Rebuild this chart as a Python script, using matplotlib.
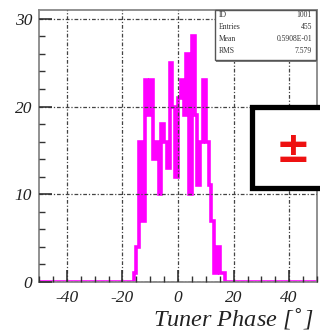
import numpy as np
import matplotlib
matplotlib.use("Agg")
import matplotlib.pyplot as plt
from matplotlib.patches import Rectangle

plt.rcParams["axes.unicode_minus"] = False

# ---- data ----
bin_lo, bin_hi, bin_width = -50, 50, 1
first_filled_bin = -16
counts_filled = [1, 4, 16, 7, 23, 19, 23, 14, 16, 10, 18, 16, 13, 25, 20, 12,
                 21, 23, 19, 26, 10, 28, 19, 11, 16, 23, 16, 11, 7, 1, 4, 1, 1]
xticks = [-40, -20, 0, 20, 40]
yticks = [0, 10, 20, 30]
xlabel = "Tuner Phase [$^{\\circ}$]"
stat_names = ["ID", "Entries", "Mean", "RMS"]
stat_values = ["1001", "455", "0.5908E-01", "7.579"]

edges = np.arange(bin_lo, bin_hi + bin_width, bin_width)
counts = np.zeros(len(edges) - 1)
i0 = int((first_filled_bin - bin_lo) / bin_width)
counts[i0:i0 + len(counts_filled)] = counts_filled

W, H = 320, 332
fig = plt.figure(figsize=(W / 100, H / 100), dpi=100)
ax = fig.add_axes([39 / W, 1 - 282 / H, (317 - 39) / W, (282 - 10) / H])

ax.stairs(counts, edges, color="#ff00ff", linewidth=2.6, baseline=None)
ax.set_xlim(bin_lo, bin_hi)
ax.set_ylim(0, 31)

ax.set_xticks(xticks)
ax.set_yticks(yticks)
ax.set_xticks(np.arange(-50, 51, 5), minor=True)
ax.set_yticks(np.arange(0, 31, 2), minor=True)
ax.tick_params(which="major", direction="in", length=9, width=1.2, color="#333333",
               top=False, right=False)
ax.tick_params(which="minor", direction="in", length=4.5, width=1.0, color="#333333",
               top=False, right=False)
ax.tick_params(axis="y", pad=5)
ax.tick_params(axis="x", pad=6)
for lab in ax.get_xticklabels() + ax.get_yticklabels():
    lab.set_fontfamily("Liberation Serif")
    lab.set_fontstyle("italic")
    lab.set_fontsize(12.5)
    lab.set_color("#222222")

ax.grid(True, which="major", color="#444444", linewidth=0.9,
        linestyle=(0, (3, 1.5, 1, 1.5)))
ax.set_axisbelow(False)
for s in ax.spines.values():
    s.set_color("#888888")
    s.set_linewidth(1.3)

fig.text(314 / W, 1 - 319 / H, xlabel, ha="right", va="center",
         fontfamily="Liberation Serif", fontstyle="italic", fontsize=17.5, color="#222222")

# stats box
bx0, bx1, by0, by1 = 215, 316, 10, 60
fig.patches.append(Rectangle((bx0 / W, 1 - by1 / H), (bx1 - bx0) / W, (by1 - by0) / H,
                             transform=fig.transFigure, facecolor="white",
                             edgecolor="#555555", linewidth=1.0, zorder=5))
fig.patches.append(Rectangle((bx0 / W + 0.004, 1 - (by1 + 2) / H), (bx1 - bx0) / W, 1.5 / H,
                             transform=fig.transFigure, facecolor="#777777",
                             edgecolor="none", zorder=5))
for k, (n, v) in enumerate(zip(stat_names, stat_values)):
    yy = 1 - (15 + 12 * k) / H
    fig.text((bx0 + 4) / W, yy, n, ha="left", va="center", fontsize=5.5,
             fontfamily="Liberation Serif", color="#333333", zorder=6)
    fig.text((bx1 - 4) / W, yy, v, ha="right", va="center", fontsize=5.5,
             fontfamily="Liberation Serif", color="#333333", zorder=6)

# red +- box
fig.patches.append(Rectangle((252 / W, 1 - 188 / H), 80 / W, 81 / H,
                             transform=fig.transFigure, facecolor="white",
                             edgecolor="black", linewidth=3.8, zorder=7))
fig.text(293 / W, 1 - 150 / H, "\u00b1", ha="center", va="center", fontsize=30,
         fontweight="bold", color="#ee1111", zorder=8)

fig.savefig("out.png", dpi=100)
